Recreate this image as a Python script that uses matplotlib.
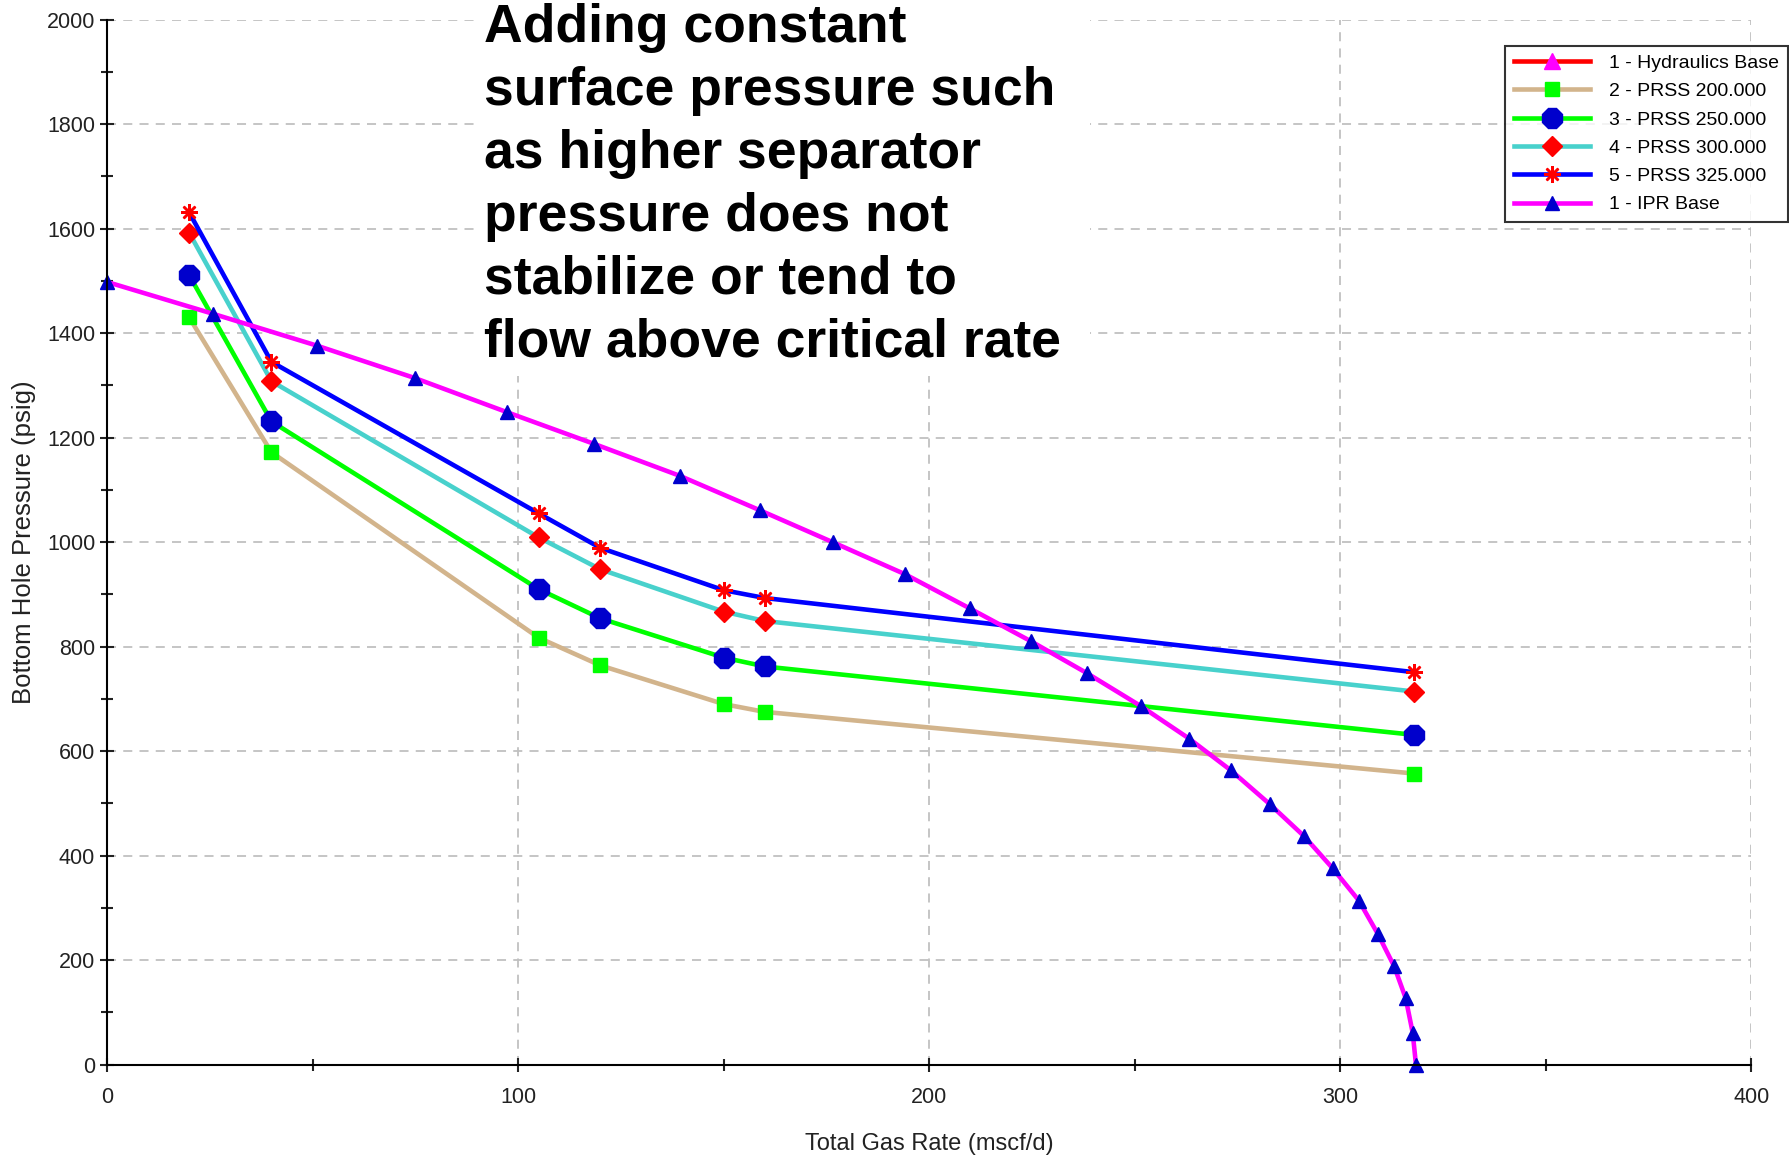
import numpy as np
import matplotlib.pyplot as plt
from matplotlib.patches import Rectangle
from matplotlib.ticker import MultipleLocator

plt.rcParams['font.family'] = ['Liberation Sans', 'DejaVu Sans']

# PRSS curves (tubing performance at different surface pressures)
prss_rate = [20, 40, 105, 120, 150, 160, 318]
prss_200 = [1430, 1172, 817, 764, 690, 675, 557]
prss_250 = [1511, 1231, 910, 854, 779, 762, 631]
prss_300 = [1592, 1308, 1009, 948, 867, 849, 714]
prss_325 = [1631, 1345, 1055, 989, 908, 893, 751]

# IPR curve
ipr_rate = [0, 25.8, 51.1, 74.9, 97.2, 118.5, 139.3, 158.8, 176.5, 194.0, 209.9,
            224.8, 238.4, 251.5, 263.2, 273.4, 282.9, 291.2, 298.1, 304.5, 309.2,
            313.1, 315.9, 317.6, 318.4]
ipr_pwf = [1498, 1437, 1376, 1314, 1249, 1188, 1127, 1061, 1000, 939, 873,
           810, 749, 686, 624, 563, 498, 437, 376, 314, 249,
           188, 127, 61, 0]

labels = ['1 - Hydraulics Base', '2 - PRSS 200.000', '3 - PRSS 250.000',
          '4 - PRSS 300.000', '5 - PRSS 325.000', '1 - IPR Base']

note = ("Adding constant\nsurface pressure such\nas higher separator\n"
        "pressure does not\nstabilize or tend to\nflow above critical rate")

W, H = 1789, 1158
fig = plt.figure(figsize=(W / 100, H / 100), dpi=100)
ax = fig.add_axes([0.0598, 0.0807, 0.9192, 0.9023])

lw = 3.3
ax.plot([], [], color='#ff0000', lw=lw, marker='^', ms=11, mfc='#ff00ff', mec='#ff00ff', label=labels[0])
ax.plot(prss_rate, prss_200, color='#d2b48c', lw=lw, marker='s', ms=10,
        mfc='#00ff00', mec='#00ff00', label=labels[1])
ax.plot(prss_rate, prss_250, color='#00ff00', lw=lw, marker='8', ms=15,
        mfc='#0000cc', mec='#0000cc', label=labels[2])
ax.plot(prss_rate, prss_300, color='#48d1cc', lw=lw, marker='D', ms=10,
        mfc='#ff0000', mec='#ff0000', label=labels[3])
ax.plot(prss_rate, prss_325, color='#0000ff', lw=lw, marker=(8, 2, 0), ms=12,
        mfc='#ff0000', mec='#ff0000', mew=1.8, label=labels[4])
ax.plot(ipr_rate, ipr_pwf, color='#ff00ff', lw=lw, marker='^', ms=10,
        mfc='#0000cc', mec='#0000cc', label=labels[5], clip_on=False)

ax.set_xlim(0, 400)
ax.set_ylim(0, 2000)
ax.xaxis.set_major_locator(MultipleLocator(100))
ax.xaxis.set_minor_locator(MultipleLocator(50))
ax.yaxis.set_major_locator(MultipleLocator(200))
ax.yaxis.set_minor_locator(MultipleLocator(100))
ax.tick_params(which='both', direction='inout', length=10, width=1.5, labelsize=15.5, colors='#222222')
ax.tick_params(which='minor', length=8)
ax.tick_params(axis='x', pad=11)
ax.grid(True, which='major', color='#c0c0c0', ls=(0, (5, 4)), lw=1.3)
for s in ['top', 'right']:
    ax.spines[s].set_visible(False)
for s in ['left', 'bottom']:
    ax.spines[s].set_linewidth(1.5)

ax.set_xlabel('Total Gas Rate (mscf/d)', fontsize=17, color='#222222', labelpad=18)
ax.set_ylabel('Bottom Hole Pressure (psig)', fontsize=18.5, color='#222222', labelpad=8)

# white box behind the note (hides the grid)
ax.add_patch(Rectangle((479 / W, 1 - 376 / H), 611 / W, 376 / H, transform=fig.transFigure,
                       facecolor='white', edgecolor='none', zorder=4, clip_on=False))
fig.text(484 / W, 1 - 3 / H, note, fontsize=38.5, fontweight='bold',
         va='top', ha='left', linespacing=1.33, zorder=5)

leg = fig.legend(loc='upper right', bbox_to_anchor=(0.9995, 1 - 45.6 / H), borderaxespad=0,
                 fontsize=14, handlelength=3.9, frameon=True, fancybox=False, edgecolor='black',
                 borderpad=0.45, labelspacing=0.55, handletextpad=1.0)
leg.get_frame().set_linewidth(1.5)

fig.savefig('out.png', dpi=100)
